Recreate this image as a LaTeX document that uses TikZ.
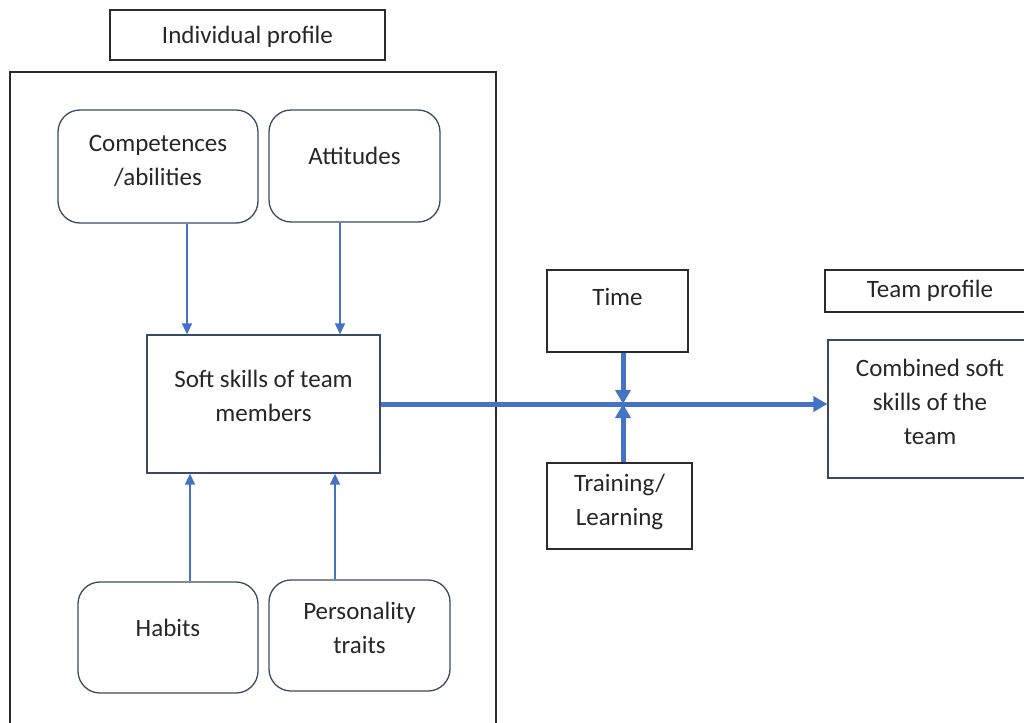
\documentclass[tikz,border=0pt]{standalone}
\usepackage{fontspec}
\setmainfont{Carlito}
\usetikzlibrary{arrows.meta,calc,positioning}
\definecolor{wordblue}{HTML}{4472C4}
\definecolor{frame}{HTML}{2B2B2B}
\definecolor{navy}{HTML}{3A4A66}
\definecolor{ink}{HTML}{262626}
\tikzset{
  box/.style = {
    draw=frame,
    line width=1.3pt,
    inner sep=0pt
  },
  bluebox/.style = {
    draw=navy,
    line width=1.3pt,
    inner sep=0pt
  },
  rbox/.style = {
    draw=navy,
    line width=1.3pt,
    rounded corners=22pt,
    inner sep=0pt
  },
  txt/.style = {
    align=center,
    text=ink,
    font=\fontsize{25}{34}\selectfont
  },
  arc/.style = {
    -{Triangle[width=10pt,length=11pt]},
    draw=wordblue,
    line width=1.4pt
  },
  thickarc/.style = {
    -{Triangle[width=15pt,length=14pt]},
    draw=wordblue,
    line width=5pt
  }
}
\begin{document}
\begin{tikzpicture}[x=1pt,y=-1pt]
		\useasboundingbox (0,0) rectangle (1024,722);
		% individual side
		\node[box, minimum width=275pt, minimum height=50pt] (ind) at (247.5,35) {};
		\node[txt] (indt) at ($(ind.center)+(0,2)$) {Individual profile};
		\draw[draw=frame, line width=1.3pt] (10,730) -- (10,72) -- (496,72) -- (496,730);
		
		\node[rbox, minimum width=200pt, minimum height=113pt] (comp) at (158,166.5) {};
		\node[txt] (compt) at ($(comp.north)+(0,52)$) {Competences\\/abilities};
		\node[rbox, minimum width=171pt, minimum height=112pt] (att) at (354.5,166) {};
		\node[txt] (attt) at ($(att.north)+(0,47)$) {Attitudes};
		
		\node[bluebox, minimum width=233pt, minimum height=138pt] (soft) at (263.5,404) {};
		\node[txt] (softt) at ($(soft.north)+(0,62)$) {Soft skills of team\\members};
		
		\node[rbox, minimum width=180pt, minimum height=111pt] (hab) at (168,637.5) {};
		\node[txt] (habt) at ($(hab.north)+(0,47)$) {Habits};
		\node[rbox, minimum width=181pt, minimum height=111pt] (pers) at (359.5,635.5) {};
		\node[txt] (perst) at ($(pers.north)+(0,49)$) {Personality\\traits};
		
		\draw[arc] ([xshift=29pt]comp.south) -- ([xshift=29pt]comp.south |- soft.north);
		\draw[arc] ([xshift=-14.5pt]att.south) -- ([xshift=-14.5pt]att.south |- soft.north);
		\draw[arc] ([xshift=22pt]hab.north) -- ([xshift=22pt]hab.north |- soft.south);
		\draw[arc] ([xshift=-24.5pt]pers.north) -- ([xshift=-24.5pt]pers.north |- soft.south);
		
		% team side
		\node[box, minimum width=141pt, minimum height=82pt] (time) at (617.5,311) {};
		\node[txt] (timet) at ($(time.north)+(0,28)$) {Time};
		\node[box, minimum width=145pt, minimum height=86pt] (train) at (619.5,506) {};
		\node[txt] (traint) at ($(train.north)+(0,40)$) {Training/\\Learning};
		
		\node[box, minimum width=250pt, minimum height=42pt] (team) at (950,291) {};
		\node[txt] (teamt) at (930,291) {Team profile};
		\node[bluebox, minimum width=250pt, minimum height=138pt] (comb) at (953,409) {};
		\node[txt] (combt) at (930,402) {Combined soft\\skills of the\\team};
		
		\coordinate (join) at (623,404);
		\draw[thickarc] (soft.east) -- (soft.east -| comb.west);
		\draw[thickarc] (time.south -| join) -- (join);
		\draw[thickarc] (train.north -| join) -- (join);
	\end{tikzpicture}
\end{document}
